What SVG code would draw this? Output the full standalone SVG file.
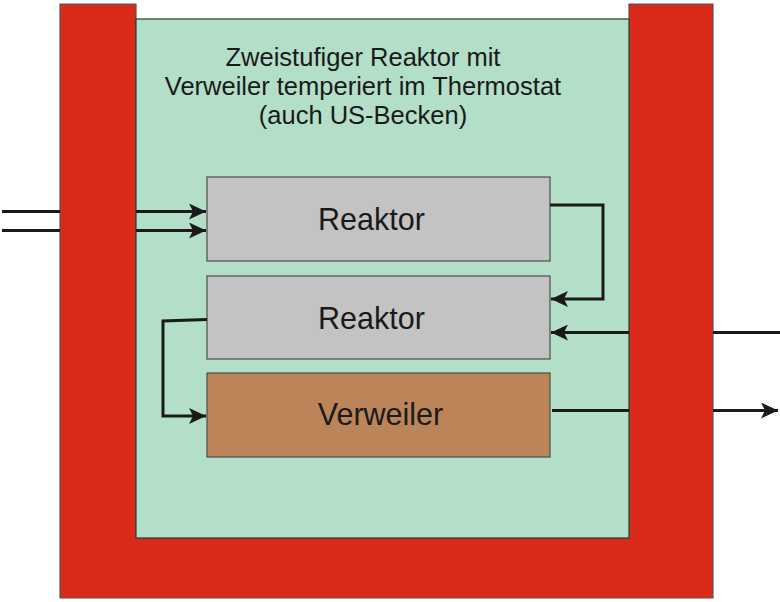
<svg xmlns="http://www.w3.org/2000/svg" width="780" height="602" viewBox="0 0 780 602">
<defs>
<style>
.box{stroke:#4d4d4d;stroke-width:1.2}
.ln{fill:none;stroke:#1a1a1a;stroke-width:3}
.lbl{font-family:"Liberation Sans",Arial,sans-serif;font-size:30.5px;fill:#1a1a1a;text-anchor:middle}
.ttl{font-family:"Liberation Sans",Arial,sans-serif;font-size:25.5px;fill:#1a1a1a;text-anchor:middle}
</style>
<marker id="ah" markerUnits="userSpaceOnUse" markerWidth="18" markerHeight="16" refX="17" refY="8" orient="auto">
<path d="M0,0 L17,8 L0,16 L4,8 Z" fill="#1a1a1a"/>
</marker>
</defs>
<rect width="780" height="602" fill="#ffffff"/>
<g id="thermostat">
<path d="M60,4 L136,4 L136,538 L629,538 L629,4 L713,4 L713,598 L60,598 Z" fill="#dc2a1a" stroke="#555" stroke-width="1.2"/>
<rect x="136" y="19" width="493" height="519" fill="#b3dec8" stroke="#2a3a32" stroke-width="1.2"/>
<text class="ttl" x="363" y="66">Zweistufiger Reaktor mit</text>
<text class="ttl" x="363" y="95">Verweiler temperiert im Thermostat</text>
<text class="ttl" x="363" y="124">(auch US-Becken)</text>
</g>
<g id="reaktor1">
<rect class="box" x="207" y="177" width="343" height="84" fill="#c3c3c3"/>
<text class="lbl" x="371.5" y="230">Reaktor</text>
</g>
<g id="reaktor2">
<rect class="box" x="207" y="276" width="343" height="83" fill="#c3c3c3"/>
<text class="lbl" x="371.5" y="329">Reaktor</text>
</g>
<g id="verweiler">
<rect class="box" x="207" y="373" width="343" height="84" fill="#bb8559"/>
<text class="lbl" x="380.5" y="425">Verweiler</text>
</g>
<g id="connectors">
<path class="ln" d="M2,211.5 L60,211.5 M136,211.5 L206,211.5" marker-end="url(#ah)"/>
<path class="ln" d="M2,230.5 L60,230.5 M136,230.5 L206,230.5" marker-end="url(#ah)"/>
<path class="ln" d="M550,205 L603,205 L603,299 L551,299" marker-end="url(#ah)"/>
<path class="ln" d="M780,332.5 L713,332.5 M629,332.5 L551,332.5" marker-end="url(#ah)"/>
<path class="ln" d="M207,319.5 L163,321 L163,416 L206,416" marker-end="url(#ah)"/>
<path class="ln" d="M552,410.5 L629,410.5 M713,410.5 L778,410.5" marker-end="url(#ah)"/>
</g>
</svg>
